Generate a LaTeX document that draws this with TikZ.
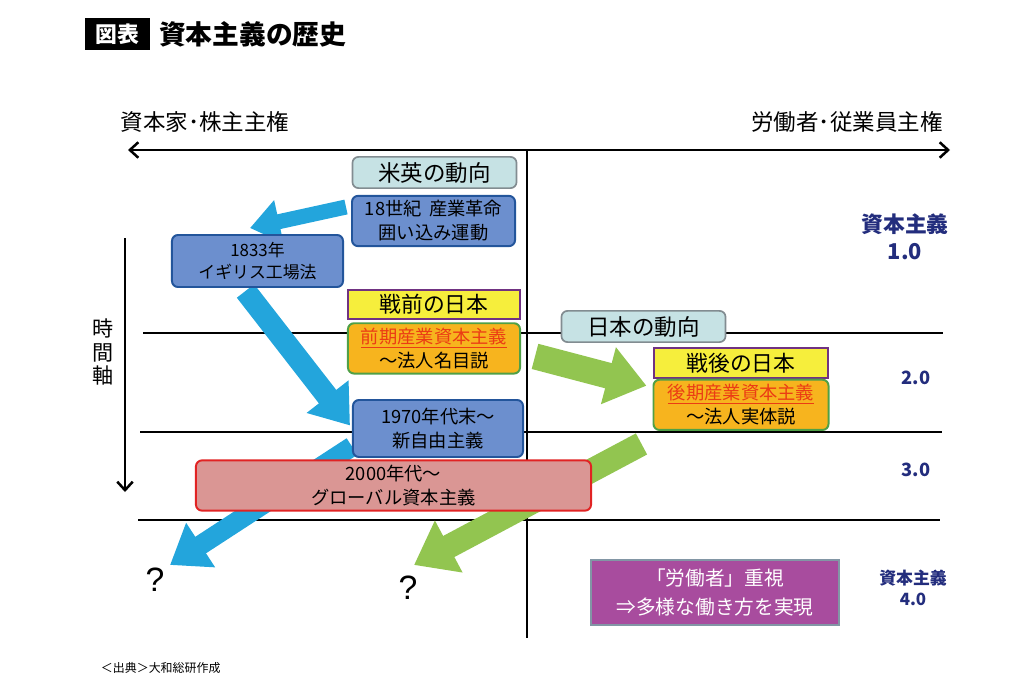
\documentclass[tikz,border=0pt]{standalone}
\usepackage{fontspec}
\setmainfont{Noto Sans CJK JP}
\newfontfamily\qfont{Liberation Sans}
\usetikzlibrary{arrows.meta,positioning,calc,backgrounds}

\definecolor{arrblue}{RGB}{35,165,220}
\definecolor{arrgreen}{RGB}{146,197,80}
\definecolor{boxblue}{RGB}{108,143,206}
\definecolor{edgeblue}{RGB}{35,85,155}
\definecolor{headteal}{RGB}{198,226,228}
\definecolor{headgray}{RGB}{130,140,145}
\definecolor{erayellow}{RGB}{246,238,60}
\definecolor{eraframe}{RGB}{112,50,130}
\definecolor{laworange}{RGB}{247,180,30}
\definecolor{lawgreen}{RGB}{80,160,70}
\definecolor{lawred}{RGB}{235,60,20}
\definecolor{globpink}{RGB}{218,150,148}
\definecolor{globred}{RGB}{225,35,35}
\definecolor{workpurple}{RGB}{168,76,158}
\definecolor{workedge}{RGB}{130,150,165}
\definecolor{vernavy}{RGB}{35,45,125}

\begin{document}
\begin{tikzpicture}[
    x=0.025cm, y=-0.025cm,
    node distance=0.05cm,
    head/.style={rectangle, draw=headgray, fill=headteal, rounded corners=0.15cm, line width=1.2pt, minimum width=4.1cm, minimum height=0.78cm, font=\fontsize{16}{18}\selectfont},
    ev/.style={rectangle, draw=edgeblue, fill=boxblue, rounded corners=0.15cm, line width=1.4pt, align=center, font=\fontsize{13}{17}\selectfont},
    era/.style={rectangle, draw=eraframe, fill=erayellow, line width=1.4pt, minimum height=0.69cm, font=\fontsize{15.5}{18}\selectfont},
    law/.style={rectangle, draw=lawgreen, fill=laworange, rounded corners=0.15cm, line width=1.4pt, align=center, minimum height=1.17cm, font=\fontsize{13}{17}\selectfont},
    ver/.style={text=vernavy, align=center, font=\bfseries\fontsize{13}{16}\selectfont},
    rule/.style={line width=1.8pt},
    barr/.style={draw=arrblue, -{Triangle[length=26pt,width=36pt]}},
    garr/.style={draw=arrgreen, -{Triangle[length=28pt,width=40pt]}}
]
    \useasboundingbox (0,0) rectangle (1024,683);

    % title
    \node [fill=black, text=white, minimum width=1.625cm, minimum height=0.8cm, font=\bfseries\fontsize{15.5}{18}\selectfont] (tag) at (117.5,34) {図表};
    \node [right=0.1cm of tag, font=\bfseries\fontsize{19}{22}\selectfont] (title) {資本主義の歴史};

    % axis labels
    \node [font=\fontsize{16}{18}\selectfont] (capl) at (205,122) {資本家･株主主権};
    \node [font=\fontsize{16}{18}\selectfont] (capr) at (847,122) {労働者･従業員主権};
    \node [align=center, font=\fontsize{15}{17}\selectfont] (time) at (103,352) {時\\間\\軸};

    \coordinate (axl) at (128,150);
    \coordinate (axr) at (950,150);
    \coordinate (ctop) at (527,150);
    \coordinate (cbot) at (527,638);
    \coordinate (ttop) at (125,238);
    \coordinate (tbot) at (125,492);

    % boxes
    \node [head] (usa) at (434.5,172.5) {米英の動向};
    \node [ev, minimum width=4.075cm, minimum height=1.25cm] (c18) at (433.5,221) {18世紀\hspace{0.4em}産業革命\\囲い込み運動};
    \node [ev, minimum width=4.275cm, minimum height=1.3cm, font=\fontsize{12}{16}\selectfont] (fact) at (257.5,261) {1833年\\イギリス工場法};
    \node [era, minimum width=4.3cm] (prewar) at (434,304.5) {戦前の日本};
    \node [law, minimum width=4.3cm, below=0.05cm of prewar] (early) {\textcolor{lawred}{\underline{前期産業資本主義}}\\～法人名目説};
    \node [head] (japan) at (643.5,326.5) {日本の動向};
    \node [era, minimum width=4.35cm] (postwar) at (741,363) {戦後の日本};
    \node [law, minimum width=4.375cm, below=0cm of postwar] (late) {\textcolor{lawred}{\underline{後期産業資本主義}}\\～法人実体説};
    \node [ev, minimum width=4.25cm, minimum height=1.425cm] (neo) at (438,428.5) {1970年代末～\\新自由主義};
    \node [ev, draw=globred, fill=globpink, minimum width=9.875cm, minimum height=1.225cm] (glob) at (393.5,485.5) {2000年代～\\グローバル資本主義};
    \node [rectangle, draw=workedge, fill=workpurple, line width=1.5pt, text=white, align=center, minimum width=6.2cm, minimum height=1.625cm, font=\fontsize{14}{20}\selectfont] (work) at (715,592.5) {「労働者」重視\\⇒多様な働き方を実現};

    % versions
    \node [ver, font=\bfseries\fontsize{15.5}{19}\selectfont] (v1) at (905,237) {資本主義\\1.0};
    \node [ver] (v2) at (916,378) {2.0};
    \node [ver] (v3) at (916,470) {3.0};
    \node [ver, font=\bfseries\fontsize{12}{15}\selectfont] (v4) at (913,588) {資本主義\\4.0};

    \node [font=\qfont\fontsize{24}{26}\selectfont] (q1) at (155,580) {?};
    \node [font=\qfont\fontsize{24}{26}\selectfont] (q2) at (408,588) {?};
    \node [anchor=west, font=\fontsize{8.5}{10}\selectfont] (src) at (96,668) {＜出典＞大和総研作成};

    \coordinate (t1) at (250,228);
    \coordinate (t3) at (170,565);
    \coordinate (t5) at (414,565);

    \begin{scope}[on background layer]
        \draw [rule, {Straight Barb[length=6pt,width=11pt]}-{Straight Barb[length=6pt,width=11pt]}] (axl) -- (axr);
        \draw [rule] (ctop) -- (cbot);
        \draw [rule, -{Straight Barb[length=6pt,width=11pt]}] (ttop) -- (tbot);
        \draw [rule] (143,333) -- (943,333);
        \draw [rule] (140,432) -- (942,432);
        \draw [rule] (138,520) -- (940,520);

        \draw [barr, line width=10.7pt, -{Triangle[length=21pt,width=30pt]}] ([shift={(-5,-14)}]c18.west) -- (t1);
        \draw [barr, line width=15.6pt] ([shift={(-12,3)}]fact.south) -- ([shift={(-2,-3)}]neo.west);
        \draw [barr, line width=14pt] ([shift={(0,18)}]neo.west) -- (t3);
        \draw [garr, line width=18.5pt] ([shift={(14,8)}]early.east) -- ([shift={(-6,7)}]late.north west);
        \draw [garr, line width=17pt] ([shift={(-11,13)}]late.south west) -- (t5);
    \end{scope}
\end{tikzpicture}
\end{document}
